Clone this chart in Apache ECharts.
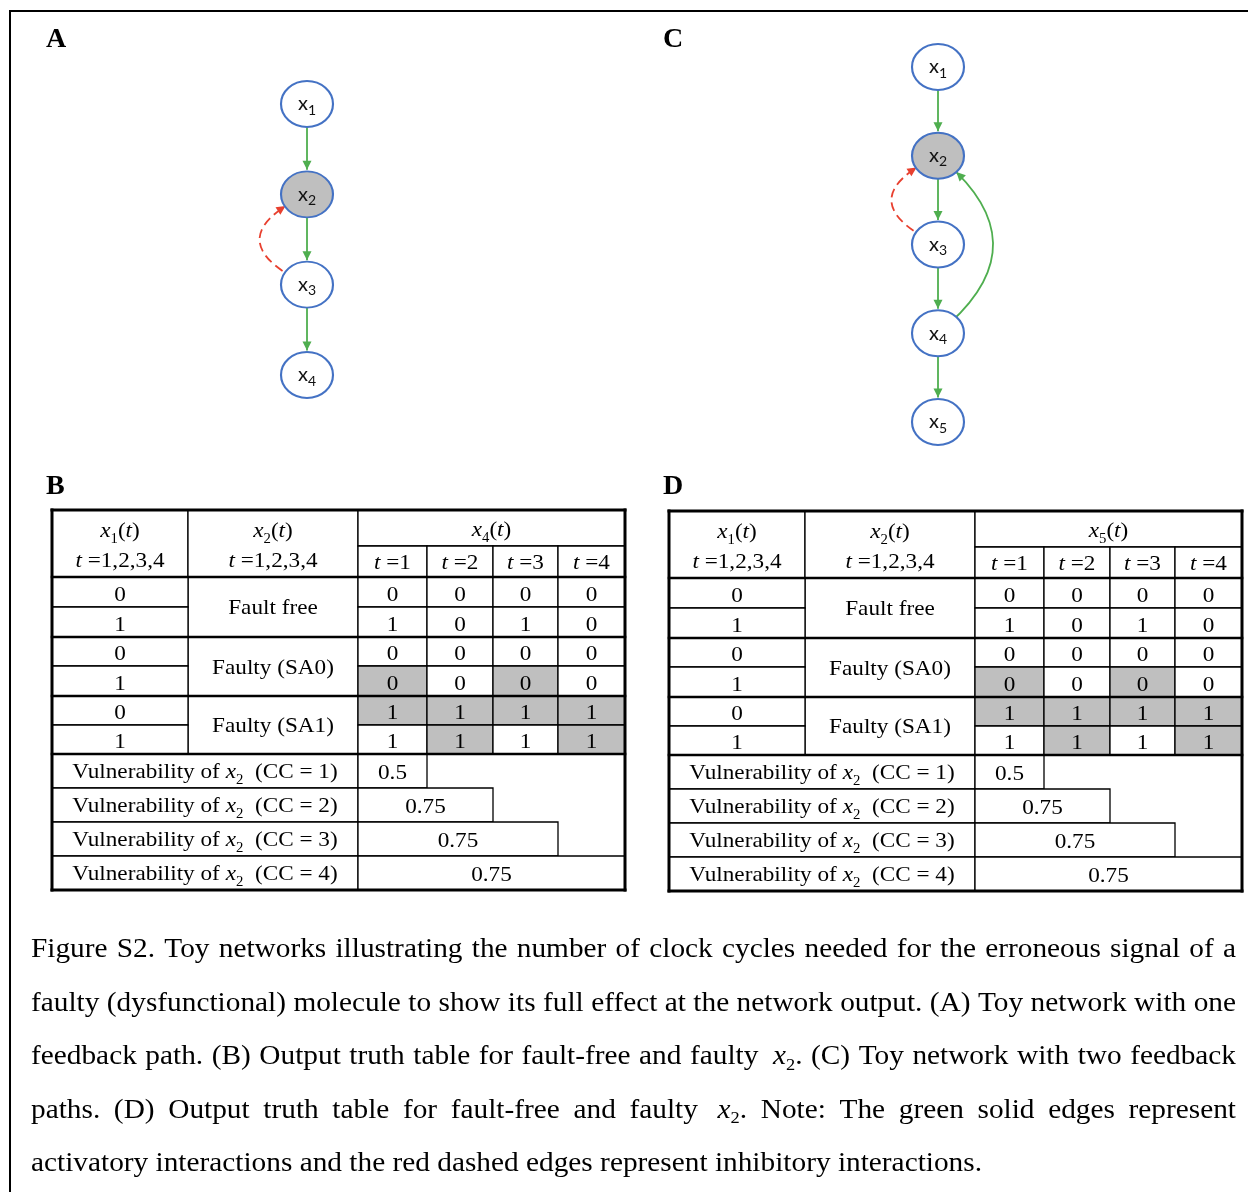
<!DOCTYPE html>
<html><head><meta charset="utf-8">
<script src="https://cdn.jsdelivr.net/npm/echarts@6/dist/echarts.min.js"></script>
<style>html,body{margin:0;padding:0;background:#fff}#c{width:1248px;height:1192px}</style>
</head><body><div id="c"></div>
<script>
// ================= DATA =================
const nodesA = ['x1', 'x2', 'x3', 'x4'];
const edgesA = [['x1','x2','act'], ['x2','x3','act'], ['x3','x4','act'], ['x3','x2','inh']];
const nodesC = ['x1', 'x2', 'x3', 'x4', 'x5'];
const edgesC = [['x1','x2','act'], ['x2','x3','act'], ['x3','x4','act'], ['x4','x5','act'], ['x3','x2','inh'], ['x4','x2','act']];
const faultyNode = 'x2';

const timeSteps = [1, 2, 3, 4];
const x1Inputs = [0, 1];
const conditionLabels = ['Fault free', 'Faulty (SA0)', 'Faulty (SA1)'];
// table B : output x4(t), rows = x1 input 0 / 1
const x4FaultFree = [[0,0,0,0], [1,0,1,0]];
const x4SA0       = [[0,0,0,0], [0,0,0,0]];
const x4SA1       = [[1,1,1,1], [1,1,1,1]];
// table D : output x5(t)
const x5FaultFree = [[0,0,0,0], [1,0,1,0]];
const x5SA0       = [[0,0,0,0], [0,0,0,0]];
const x5SA1       = [[1,1,1,1], [1,1,1,1]];
const ccLevels = [1, 2, 3, 4];
const vulnB = [0.5, 0.75, 0.75, 0.75];
const vulnD = [0.5, 0.75, 0.75, 0.75];

const panelLabels = ['A', 'B', 'C', 'D'];
const captionLines = [
  'Figure S2. Toy networks illustrating the number of clock cycles needed for the erroneous signal of a',
  'faulty (dysfunctional) molecule to show its full effect at the network output. (A) Toy network with one',
  'feedback path. (B) Output truth table for fault-free and faulty $x2$. (C) Toy network with two feedback',
  'paths. (D) Output truth table for fault-free and faulty $x2$. Note: The green solid edges represent',
  'activatory interactions and the red dashed edges represent inhibitory interactions.'
];

// ================= STYLE / LAYOUT =================
const SERIF = '"Liberation Serif","Times New Roman",serif';
const SANS = 'Lato,"Open Sans","Noto Sans",sans-serif';
const GREEN = '#4fae4f', RED = '#e8402f', BLUE = '#4472c4', GRAY = '#bfbfbf';
const TFS = 22, TSX = 1.055;      // table font size, horizontal stretch
const COLS = [0, 136, 306, 375, 441, 506, 573];
const HEAD = [0, 36, 67];
const ROWS = [67, 97, 127, 156, 186, 215, 244];
const VROWS = [244, 278, 312, 346, 380];

const tableRich = {
  n:  {fontFamily: SERIF, fontSize: TFS, fill: '#000', lineHeight: 30},
  mi: {fontFamily: SERIF, fontSize: TFS, fontStyle: 'italic', fill: '#000', lineHeight: 30},
  sb: {fontFamily: SERIF, fontSize: 14, fill: '#000', verticalAlign: 'bottom', lineHeight: 19}
};

function buildTableCells(outIdx, groups, vuln) {
  const cells = [];
  const xs = d => `{mi|x}{sb|${d}}`;
  cells.push({b: [COLS[0], HEAD[0], COLS[1], HEAD[2]], dy: 2.5, text: `${xs(1)}{n|(}{mi|t}{n|)}\n{mi|t}{n| =1,2,3,4}`});
  cells.push({b: [COLS[1], HEAD[0], COLS[2], HEAD[2]], dy: 2.5, text: `${xs(2)}{n|(}{mi|t}{n|)}\n{mi|t}{n| =1,2,3,4}`});
  cells.push({b: [COLS[2], HEAD[0], COLS[6], HEAD[1]], dy: 2, text: `${xs(outIdx)}{n|(}{mi|t}{n|)}`});
  timeSteps.forEach((t, k) => cells.push({b: [COLS[2+k], HEAD[1], COLS[3+k], HEAD[2]], dy: 2, text: `{mi|t}{n| =${t}}`}));
  const ref = groups[0];
  groups.forEach((g, gi) => {
    cells.push({b: [COLS[1], ROWS[2*gi], COLS[2], ROWS[2*gi+2]], dy: 1.5, text: `{n|${conditionLabels[gi]}}`});
    x1Inputs.forEach((x1, ri) => {
      const r0 = ROWS[2*gi+ri], r1 = ROWS[2*gi+ri+1];
      cells.push({b: [COLS[0], r0, COLS[1], r1], dy: 3, text: `{n|${x1}}`});
      g[ri].forEach((v, k) => {
        cells.push({b: [COLS[2+k], r0, COLS[3+k], r1], dy: 3, text: `{n|${v}}`, fill: v !== ref[ri][k] ? GRAY : '#fff'});
      });
    });
  });
  ccLevels.forEach((cc, i) => {
    const r0 = VROWS[i], r1 = VROWS[i+1];
    cells.push({b: [COLS[0], r0, COLS[2], r1], dy: 1, text: `{n|Vulnerability of }${xs(2)}{n|  (CC = ${cc})}`});
    cells.push({b: [COLS[2], r0, COLS[2+cc], r1], dy: 2, text: `{n|${vuln[i]}}`});
  });
  return cells;
}

function tableSeries(idx, cells) {
  return {
    type: 'custom', coordinateSystem: 'cartesian2d', xAxisIndex: idx, yAxisIndex: idx,
    silent: true, clip: false, z: 2,
    data: cells.map(c => c.b),
    encode: {x: [0, 2], y: [1, 3]},
    renderItem: (params, api) => {
      const c = cells[params.dataIndex];
      const p0 = api.coord([api.value(0), api.value(1)]);
      const p1 = api.coord([api.value(2), api.value(3)]);
      return {type: 'group', children: [
        {type: 'rect', shape: {x: p0[0], y: p0[1], width: p1[0]-p0[0], height: p1[1]-p0[1]},
         style: {fill: c.fill || '#fff', stroke: '#000', lineWidth: 1.3}},
        {type: 'text', x: (p0[0]+p1[0])/2, y: (p0[1]+p1[1])/2 + c.dy, scaleX: TSX,
         style: {text: c.text, rich: tableRich, align: 'center', verticalAlign: 'middle', fontFamily: SERIF, fontSize: TFS}}
      ]};
    }
  };
}
function frameSeries(idx) {
  const segs = [];
  [HEAD[2], ROWS[2], ROWS[4], ROWS[6]].forEach(y => segs.push([COLS[0], y, COLS[6], y, 2.6]));
  segs.push([COLS[0], HEAD[0], COLS[6], HEAD[0], 3], [COLS[0], VROWS[4], COLS[6], VROWS[4], 3],
            [COLS[0], HEAD[0], COLS[0], VROWS[4], 3], [COLS[6], HEAD[0], COLS[6], VROWS[4], 3]);
  return {
    type: 'custom', coordinateSystem: 'cartesian2d', xAxisIndex: idx, yAxisIndex: idx,
    silent: true, clip: false, z: 3,
    data: segs, encode: {x: [0, 2], y: [1, 3]},
    renderItem: (params, api) => {
      const p0 = api.coord([api.value(0), api.value(1)]);
      const p1 = api.coord([api.value(2), api.value(3)]);
      return {type: 'line', shape: {x1: p0[0], y1: p0[1], x2: p1[0], y2: p1[1]},
              style: {stroke: '#000', lineWidth: api.value(4), lineCap: 'square'}};
    }
  };
}

const ELLIPSE = 'path://M50,0C77.6,0 100,22.4 100,50C100,77.6 77.6,100 50,100C22.4,100 0,77.6 0,50C0,22.4 22.4,0 50,0Z';
// arrow head whose tip sits at the symbol centre (bbox padded by a zero-length segment)
const ARROW = 'path://M5,0L5,0M5,10L10,20L0,20Z';
function graphSeries(idx, nodes, edges) {
  return {
    type: 'graph', coordinateSystem: 'cartesian2d', xAxisIndex: idx, yAxisIndex: idx,
    silent: true, roam: false, z: 2,
    symbol: ELLIPSE, symbolSize: [52, 46],
    data: nodes.map((n, i) => ({name: n, value: [0, i],
      itemStyle: {color: n === faultyNode ? GRAY : '#fff', borderColor: BLUE, borderWidth: 2}})),
    links: edges.map(([s, t, kind]) => {
      const si = nodes.indexOf(s), ti = nodes.indexOf(t);
      const back = ti < si;
      const curv = !back ? 0 : (kind === 'inh' ? 1.05 : -0.62);
      return {source: s, target: t, lineStyle: {
        color: kind === 'inh' ? RED : GREEN, width: 1.8, opacity: 1,
        type: kind === 'inh' ? [9, 5] : 'solid', curveness: curv}};
    }),
    edgeSymbol: ['none', ARROW], edgeSymbolSize: [[0, 0], [9, 18]],
    label: {show: true, position: 'inside',
      formatter: p => `{v|x}{s|${p.name.slice(1)}}`,
      rich: {v: {fontFamily: SANS, fontSize: 20, color: '#111', lineHeight: 26},
             s: {fontFamily: SANS, fontSize: 14, color: '#111', verticalAlign: 'bottom', lineHeight: 15}}}
  };
}

// ================= CAPTION (justified) =================
const CAP_FS = 27, CAP_SUB = 17, CAP_L = 31, CAP_R = 1236, CAP_Y0 = 950, CAP_DY = 53.5, CAP_LAST_W = 951;
const mctx = document.createElement('canvas').getContext('2d');
function tw(t, size, st) { mctx.font = `${st || ''} ${size}px ${SERIF}`; return mctx.measureText(t).width; }
const CAP_SX = CAP_LAST_W / tw(captionLines[captionLines.length - 1], CAP_FS);
const capRich = {
  n: {fontFamily: SERIF, fontSize: CAP_FS, fill: '#000', lineHeight: 34},
  i: {fontFamily: SERIF, fontSize: CAP_FS, fontStyle: 'italic', fill: '#000', lineHeight: 34},
  s: {fontFamily: SERIF, fontSize: CAP_SUB, fill: '#000', verticalAlign: 'bottom', lineHeight: 20}
};
const captionGraphics = [];
captionLines.forEach((line, li) => {
  const toks = line.split(' ').map(w => {
    const m = w.match(/^\$x(\d)\$(.*)$/);
    if (m) {
      const pad = 6;
      return {pad, text: `{i|x}{s|${m[1]}}{n|${m[2]}}`,
              w: pad + CAP_SX * (tw('x', CAP_FS, 'italic') + tw(m[1], CAP_SUB) + tw(m[2], CAP_FS))};
    }
    return {pad: 0, text: `{n|${w}}`, w: CAP_SX * tw(w, CAP_FS)};
  });
  const total = toks.reduce((a, t) => a + t.w, 0);
  const last = li === captionLines.length - 1;
  const gap = last ? CAP_SX * tw(' ', CAP_FS) : (CAP_R - CAP_L - total) / (toks.length - 1);
  let x = CAP_L;
  toks.forEach(t => {
    captionGraphics.push({type: 'text', x: x + t.pad, y: CAP_Y0 + li * CAP_DY, scaleX: CAP_SX, silent: true,
      style: {text: t.text, rich: capRich, align: 'left', verticalAlign: 'middle', fontFamily: SERIF, fontSize: CAP_FS}});
    x += t.w + gap;
  });
});

const panelPos = {A: [46, 40], B: [46, 487], C: [663, 40], D: [663, 487]};
const panelGraphics = panelLabels.map(p => ({type: 'text', x: panelPos[p][0], y: panelPos[p][1], silent: true,
  style: {text: p, fontFamily: SERIF, fontWeight: 'bold', fontSize: 28, fill: '#000', align: 'left', verticalAlign: 'middle'}}));

// ================= CHART =================
const grids = [
  {left: 256, top: 104, width: 102, height: 271},   // A
  {left: 887, top: 67, width: 102, height: 355},    // C
  {left: 52, top: 510, width: 573, height: 380},    // B
  {left: 669, top: 511, width: 573, height: 380}    // D
];
const axisRanges = [[-1, 1, 0, 3], [-1, 1, 0, 4], [0, 573, 0, 380], [0, 573, 0, 380]];
const chart = echarts.init(document.getElementById('c'), null, {renderer: 'canvas'});
chart.setOption({
  backgroundColor: '#fff',
  animation: false,
  grid: grids.map(g => Object.assign({containLabel: false}, g)),
  xAxis: axisRanges.map((r, i) => ({type: 'value', gridIndex: i, min: r[0], max: r[1], show: false})),
  yAxis: axisRanges.map((r, i) => ({type: 'value', gridIndex: i, min: r[2], max: r[3], inverse: true, show: false})),
  graphic: [
    {type: 'polyline', silent: true, shape: {points: [[10, 1200], [10, 11], [1260, 11]]},
     style: {stroke: '#000', lineWidth: 2, fill: null}},
    ...panelGraphics, ...captionGraphics
  ],
  series: [
    graphSeries(0, nodesA, edgesA),
    graphSeries(1, nodesC, edgesC),
    tableSeries(2, buildTableCells(4, [x4FaultFree, x4SA0, x4SA1], vulnB)),
    frameSeries(2),
    tableSeries(3, buildTableCells(5, [x5FaultFree, x5SA0, x5SA1], vulnD)),
    frameSeries(3)
  ]
});
</script>
</body></html>
